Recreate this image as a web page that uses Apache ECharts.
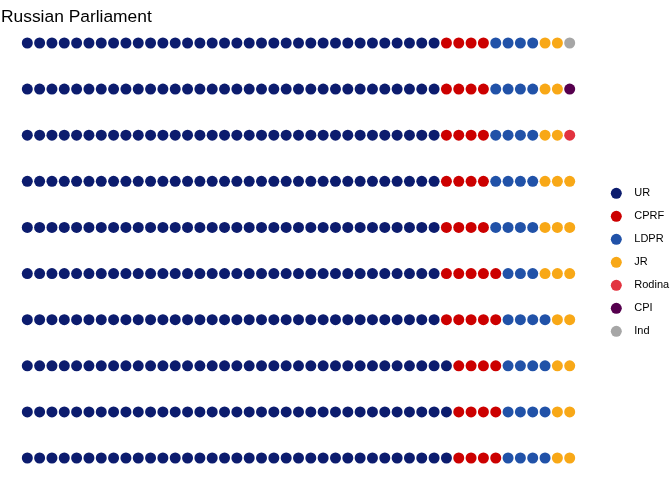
<!DOCTYPE html>
<html>
<head>
<meta charset="utf-8">
<script src="https://cdn.jsdelivr.net/npm/echarts@6/dist/echarts.min.js"></script>
<style>html,body{margin:0;padding:0;background:#fff;}#c{width:672px;height:480px;}</style>
</head>
<body>
<div id="c"></div>
<script>
const parties = ['UR', 'CPRF', 'LDPR', 'JR', 'Rodina', 'CPI', 'Ind'];
const seats = [343, 42, 39, 23, 1, 1, 1];
const colors = ['#0c1c6e', '#cc0000', '#2152a8', '#f8a817', '#e2333f', '#56004e', '#a6a6a6'];
const nRows = 10;

// waffle layout: cells filled column by column, bottom to top
let k = 0;
const series = parties.map((p, i) => {
  const data = [];
  for (let s = 0; s < seats[i]; s++, k++) {
    data.push([Math.floor(k / nRows), k % nRows]);
  }
  return {
    name: p,
    type: 'scatter',
    symbol: 'circle',
    symbolSize: 11,
    itemStyle: { color: colors[i], opacity: 1 },
    data: data
  };
});
const nCols = Math.ceil(k / nRows);

const chart = echarts.init(document.getElementById('c'));
chart.setOption({
  animation: false,
  backgroundColor: '#fff',
  title: {
    text: 'Russian Parliament',
    left: 1, top: 9, padding: 0,
    textStyle: { fontFamily: 'Liberation Sans', fontSize: 17.4, fontWeight: 'normal', color: '#000' }
  },
  legend: {
    orient: 'vertical',
    left: 610.8, top: 187.3, padding: 0,
    icon: 'circle',
    itemWidth: 11, itemHeight: 11, itemGap: 11,
    itemStyle: { opacity: 1 },
    textStyle: { fontFamily: 'Liberation Sans', fontSize: 11, color: '#000', lineHeight: 12, padding: [0, 0, 0, 7.5] },
    data: parties
  },
  grid: { left: 27.3, right: 102.3, top: 43, bottom: 22 },
  xAxis: { type: 'value', min: 0, max: nCols - 1, show: false },
  yAxis: { type: 'value', min: 0, max: nRows - 1, show: false },
  series: series
});
</script>
</body>
</html>
